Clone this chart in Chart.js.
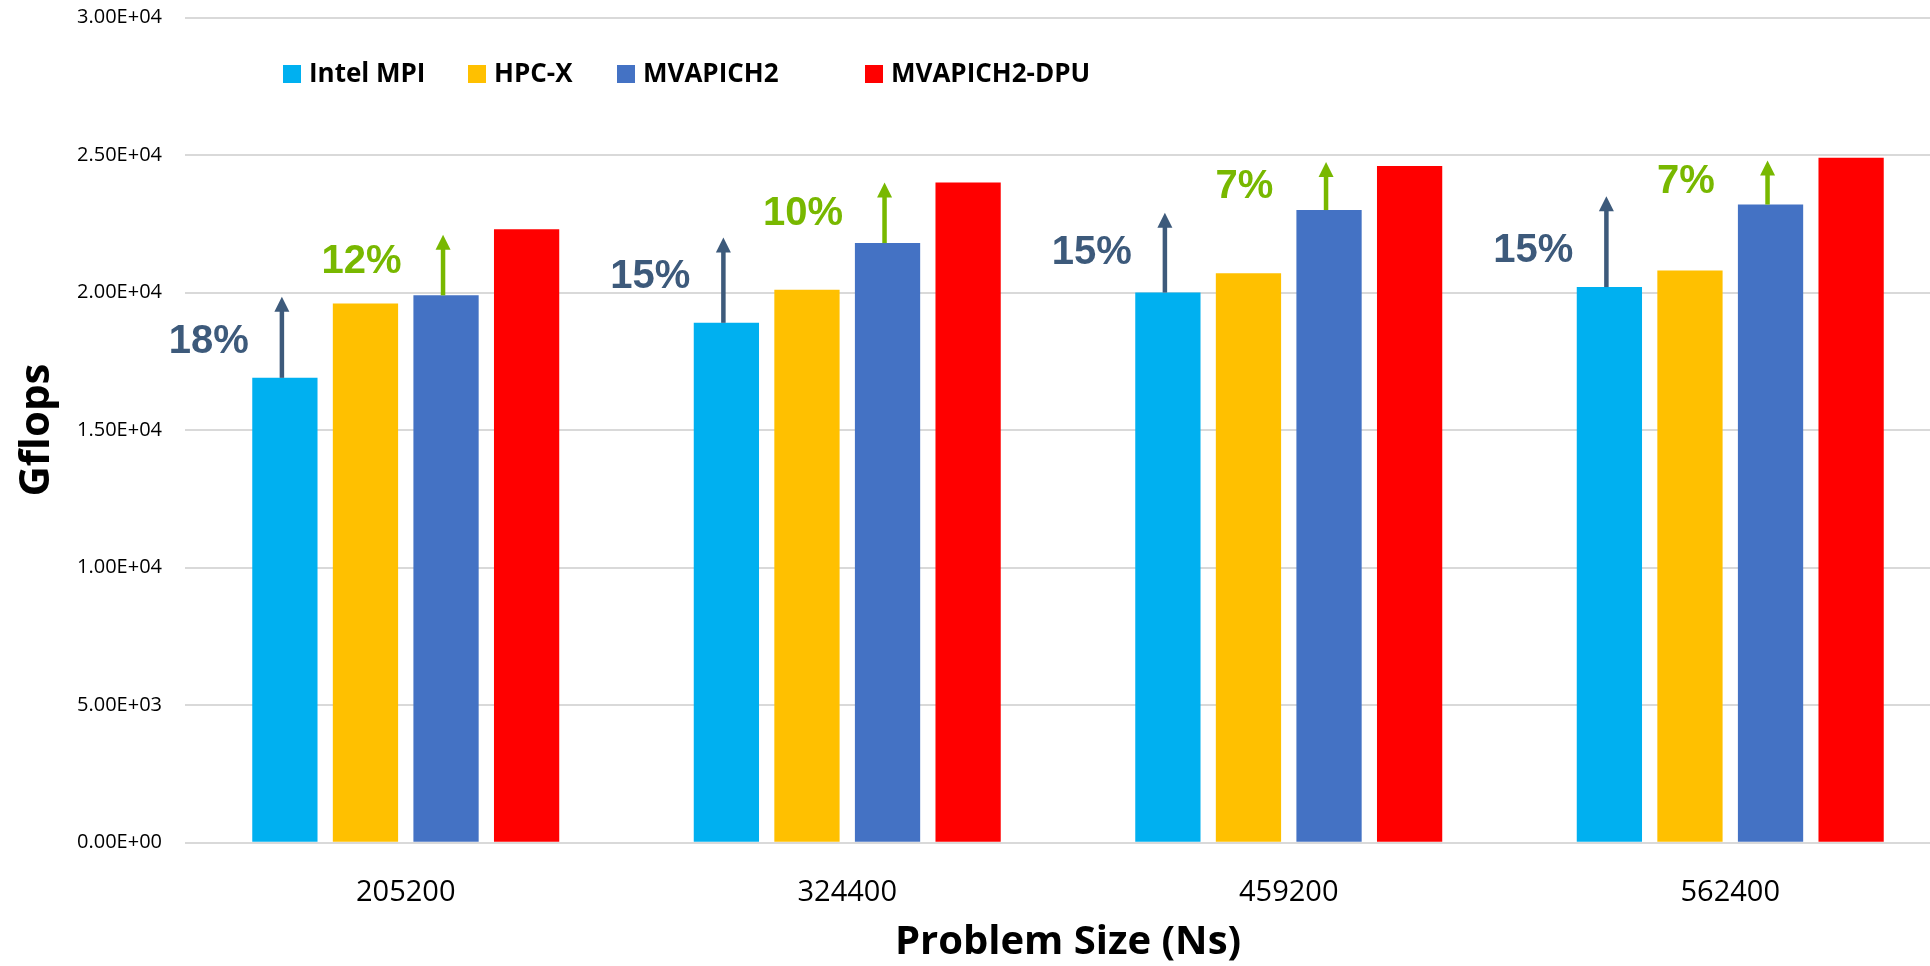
<!DOCTYPE html>
<html>
<head>
<meta charset="utf-8">
<title>HPL Gflops</title>
<script src="https://cdn.jsdelivr.net/npm/chart.js@4.4.0/dist/chart.umd.min.js"></script>
<style>
  html, body { margin: 0; padding: 0; background: #fff; overflow: hidden; }
  #wrap { position: relative; width: 1952px; height: 966px; }
</style>
</head>
<body>
<div id="wrap"><canvas id="hpl" width="1952" height="966"></canvas></div>
<script>
/* HPL Gflops by problem size — four MPI libraries, improvement arrows drawn on top */

const problemSizes = ['205200', '324400', '459200', '562400'];
const intelMPI    = [16900, 18900, 20000, 20200];
const hpcX        = [19600, 20100, 20700, 20800];
const mvapich2    = [19900, 21800, 23000, 23200];
const mvapich2DPU = [22300, 24000, 24600, 24900];
const yTicks = [0, 5000, 10000, 15000, 20000, 25000, 30000];

// gain of MVAPICH2-DPU over Intel MPI (arrow from the Intel MPI bar)
const gainVsIntel     = ['18%', '15%', '15%', '15%'];
const gainVsIntelTip  = [19850, 22000, 22900, 23500];
const gainVsIntelText = [18350, 20700, 21600, 21650];
// gain over HPC-X (arrow from the MVAPICH2 bar)
const gainVsHpcx     = ['12%', '10%', '7%', '7%'];
const gainVsHpcxTip  = [22100, 24000, 24750, 24800];
const gainVsHpcxText = [21250, 23000, 24000, 24150];

const SLATE = '#3D5A7B';
const GREEN = '#78B800';
const legendX = [283, 468, 617, 865];

const sci = (v) => {
  const [m, e] = Number(v).toExponential(2).split('e');
  return m + 'E' + e[0] + e.slice(1).padStart(2, '0');
};

function drawArrow(ctx, x, yFrom, yTo, color) {
  const head = 15, half = 7.5, shaft = 4.5;
  ctx.fillStyle = color;
  ctx.fillRect(x - shaft / 2, yTo + head - 1, shaft, yFrom - yTo - head + 1);
  ctx.beginPath();
  ctx.moveTo(x, yTo);
  ctx.lineTo(x + half, yTo + head);
  ctx.lineTo(x - half, yTo + head);
  ctx.closePath();
  ctx.fill();
}

const legendPlugin = {
  id: 'boxLegend',
  afterDraw(chart) {
    const ctx = chart.ctx;
    ctx.save();
    ctx.font = 'bold 26px "Open Sans"';
    ctx.textBaseline = 'middle';
    chart.data.datasets.forEach((ds, i) => {
      const x = legendX[i];
      ctx.fillStyle = ds.backgroundColor;
      ctx.fillRect(x, 65, 18, 18);
      ctx.fillStyle = '#000';
      ctx.fillText(ds.label, x + 26, 75);
    });
    ctx.restore();
  }
};

const gainPlugin = {
  id: 'gains',
  afterDatasetsDraw(chart) {
    const ctx = chart.ctx;
    const y = chart.scales.y;
    const intelBars = chart.getDatasetMeta(0).data;
    const hpcxBars = chart.getDatasetMeta(1).data;
    const mvBars = chart.getDatasetMeta(2).data;
    ctx.save();
    ctx.font = 'bold 40px "Liberation Sans"';
    ctx.textAlign = 'center';
    ctx.textBaseline = 'middle';
    problemSizes.forEach((_, i) => {
      const a = intelBars[i], m = mvBars[i], h = hpcxBars[i];
      drawArrow(ctx, a.x - 3, a.y, y.getPixelForValue(gainVsIntelTip[i]), SLATE);
      drawArrow(ctx, m.x - 3, m.y, y.getPixelForValue(gainVsHpcxTip[i]), GREEN);
      ctx.fillStyle = SLATE;
      ctx.fillText(gainVsIntel[i], a.x - 76, y.getPixelForValue(gainVsIntelText[i]) + 4);
      ctx.fillStyle = GREEN;
      ctx.fillText(gainVsHpcx[i], h.x - 4, y.getPixelForValue(gainVsHpcxText[i]) + 4);
    });
    ctx.restore();
  }
};

new Chart(document.getElementById('hpl'), {
  type: 'bar',
  data: {
    labels: problemSizes,
    datasets: [
      { label: 'Intel MPI', data: intelMPI, backgroundColor: '#00B0F0' },
      { label: 'HPC-X', data: hpcX, backgroundColor: '#FFC000' },
      { label: 'MVAPICH2', data: mvapich2, backgroundColor: '#4472C4' },
      { label: 'MVAPICH2-DPU', data: mvapich2DPU, backgroundColor: '#FF0000' }
    ]
  },
  options: {
    responsive: false,
    animation: false,
    layout: { padding: { top: 17.5, right: 1, left: 0, bottom: 0 } },
    datasets: { bar: { categoryPercentage: 0.73, barPercentage: 0.81, borderWidth: 0 } },
    plugins: { legend: { display: false }, tooltip: { enabled: false } },
    scales: {
      x: {
        grid: { display: false },
        border: { display: false },
        ticks: { color: '#000', font: { family: 'Open Sans', size: 29 }, padding: 25 },
        title: {
          display: true, text: 'Problem Size (Ns)', color: '#000',
          font: { family: 'Open Sans', size: 40, weight: 'bold', lineHeight: 1 },
          padding: { top: 0, bottom: 3 }
        },
        afterFit: (s) => { s.height = 123.3; s.paddingLeft = 0; s.paddingRight = 0; }
      },
      y: {
        min: 0,
        max: 30000,
        afterBuildTicks: (s) => { s.ticks = yTicks.map(v => ({ value: v })); },
        grid: { color: '#D9D9D9', lineWidth: 2, drawTicks: false },
        border: { display: false },
        ticks: { color: '#000', font: { family: 'Open Sans', size: 20 }, padding: 23, callback: (v) => sci(v) },
        title: {
          display: true, text: 'Gflops', color: '#000',
          font: { family: 'Open Sans', size: 42, weight: 'bold', lineHeight: 1 },
          padding: { top: 16, bottom: 0 }
        },
        afterFit: (s) => { s.width = 185; s.paddingTop = 0; s.paddingBottom = 0; }
      }
    }
  },
  plugins: [legendPlugin, gainPlugin]
});
</script>
</body>
</html>
